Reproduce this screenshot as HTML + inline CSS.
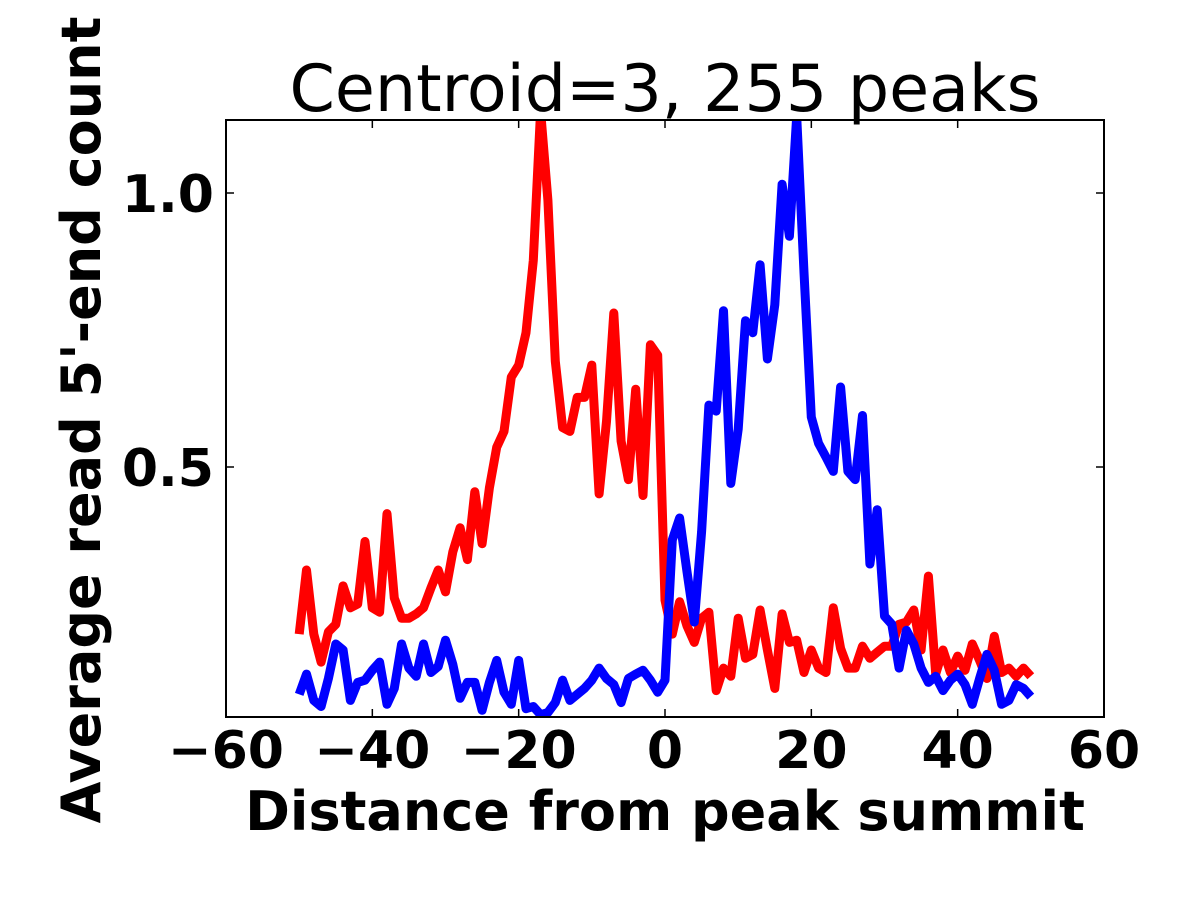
<!DOCTYPE html>
<html><head><meta charset="utf-8"><style>
html,body{margin:0;padding:0;background:#fff;}
svg{display:block;font-family:"DejaVu Sans","Liberation Sans",sans-serif;}
</style></head><body>
<svg id="chart" width="1200" height="900" viewBox="0 0 1200 900">
<defs><clipPath id="clip"><rect x="226" y="120" width="878" height="597"/></clipPath></defs>
<rect width="1200" height="900" fill="#fff"/>
<text x="665" y="111" font-size="65" text-anchor="middle">Centroid=3, 255 peaks</text>
<g id="series" clip-path="url(#clip)"></g>
<rect x="226" y="120" width="878" height="597" fill="none" stroke="#000" stroke-width="2"/>
<g id="ticks"></g>
<text x="665" y="830" font-size="54" font-weight="bold" text-anchor="middle">Distance from peak summit</text>
<text transform="translate(100,420) rotate(-90)" font-size="54" font-weight="bold" text-anchor="middle">Average read 5'-end count</text>
</svg>
<script>
const xTicks = [-60, -40, -20, 0, 20, 40, 60];
const xTickLabels = ["\u221260", "\u221240", "\u221220", "0", "20", "40", "60"];
const yTicks = [0.5, 1.0];
const yTickLabels = ["0.5", "1.0"];
const positions = Array.from({length: 101}, (_, i) => i - 50);
const redValues = [0.195,0.312,0.195,0.144,0.199,0.213,0.283,0.243,0.250,0.364,0.243,0.235,0.415,0.261,0.224,0.224,0.232,0.243,0.279,0.312,0.272,0.345,0.389,0.331,0.455,0.360,0.462,0.536,0.565,0.664,0.686,0.745,0.877,1.15,0.987,0.693,0.572,0.565,0.627,0.627,0.686,0.451,0.583,0.781,0.547,0.477,0.642,0.448,0.723,0.704,0.257,0.195,0.254,0.210,0.180,0.224,0.235,0.092,0.133,0.118,0.224,0.151,0.158,0.239,0.166,0.096,0.232,0.180,0.184,0.125,0.166,0.133,0.125,0.243,0.169,0.133,0.133,0.173,0.151,0.162,0.173,0.173,0.213,0.217,0.239,0.166,0.301,0.122,0.166,0.125,0.155,0.129,0.177,0.147,0.114,0.191,0.125,0.133,0.118,0.133,0.118];
const blueValues = [0.085,0.122,0.074,0.063,0.114,0.177,0.166,0.074,0.107,0.111,0.129,0.144,0.067,0.096,0.177,0.133,0.118,0.177,0.125,0.136,0.184,0.140,0.078,0.107,0.107,0.056,0.107,0.147,0.089,0.067,0.147,0.059,0.063,0.048,0.052,0.070,0.111,0.074,0.085,0.096,0.111,0.133,0.114,0.103,0.070,0.114,0.122,0.129,0.111,0.089,0.111,0.367,0.407,0.309,0.217,0.382,0.613,0.602,0.785,0.470,0.569,0.767,0.745,0.869,0.697,0.796,1.016,0.921,1.14,0.855,0.591,0.543,0.518,0.492,0.646,0.492,0.477,0.594,0.323,0.422,0.228,0.213,0.133,0.202,0.177,0.133,0.107,0.118,0.092,0.111,0.122,0.103,0.067,0.114,0.158,0.129,0.067,0.074,0.103,0.096,0.081];

const NS = "http://www.w3.org/2000/svg";
function xScale(v){ return 226 + (v + 60) * (878 / 120); }
function yScale(v){ return 741 - v * 548; }

const series = document.getElementById('series');
function drawLine(vals, color, name){
  const p = document.createElementNS(NS, 'polyline');
  p.setAttribute('points', vals.map((v, i) => xScale(positions[i]).toFixed(1) + ',' + yScale(v).toFixed(1)).join(' '));
  p.setAttribute('fill', 'none');
  p.setAttribute('stroke', color);
  p.setAttribute('stroke-width', '9');
  p.setAttribute('stroke-linejoin', 'round');
  
  
  series.appendChild(p);
}
drawLine(redValues, '#ff0000', 'red-series-line');
drawLine(blueValues, '#0000ff', 'blue-series-line');

const ticks = document.getElementById('ticks');
xTicks.forEach((t, i) => {
  const x = xScale(t);
  [[717, 709], [120, 128]].forEach(([a, b]) => {
    const l = document.createElementNS(NS, 'line');
    l.setAttribute('x1', x); l.setAttribute('x2', x);
    l.setAttribute('y1', a); l.setAttribute('y2', b);
    l.setAttribute('stroke', '#000'); l.setAttribute('stroke-width', '1.5');
    
    
    ticks.appendChild(l);
  });
  const tx = document.createElementNS(NS, 'text');
  tx.setAttribute('x', x); tx.setAttribute('y', 768);
  tx.setAttribute('font-size', '52'); tx.setAttribute('font-weight', 'bold');
  tx.setAttribute('text-anchor', 'middle');
  tx.textContent = xTickLabels[i];
  
  
  ticks.appendChild(tx);
});
yTicks.forEach((t, i) => {
  const y = yScale(t);
  [[226, 234], [1104, 1096]].forEach(([a, b]) => {
    const l = document.createElementNS(NS, 'line');
    l.setAttribute('x1', a); l.setAttribute('x2', b);
    l.setAttribute('y1', y); l.setAttribute('y2', y);
    l.setAttribute('stroke', '#000'); l.setAttribute('stroke-width', '1.5');
    
    
    ticks.appendChild(l);
  });
  const tx = document.createElementNS(NS, 'text');
  tx.setAttribute('x', 214); tx.setAttribute('y', y + 19);
  tx.setAttribute('font-size', '52'); tx.setAttribute('font-weight', 'bold');
  tx.setAttribute('text-anchor', 'end');
  tx.textContent = yTickLabels[i];
  
  
  ticks.appendChild(tx);
});
</script>
</body></html>
